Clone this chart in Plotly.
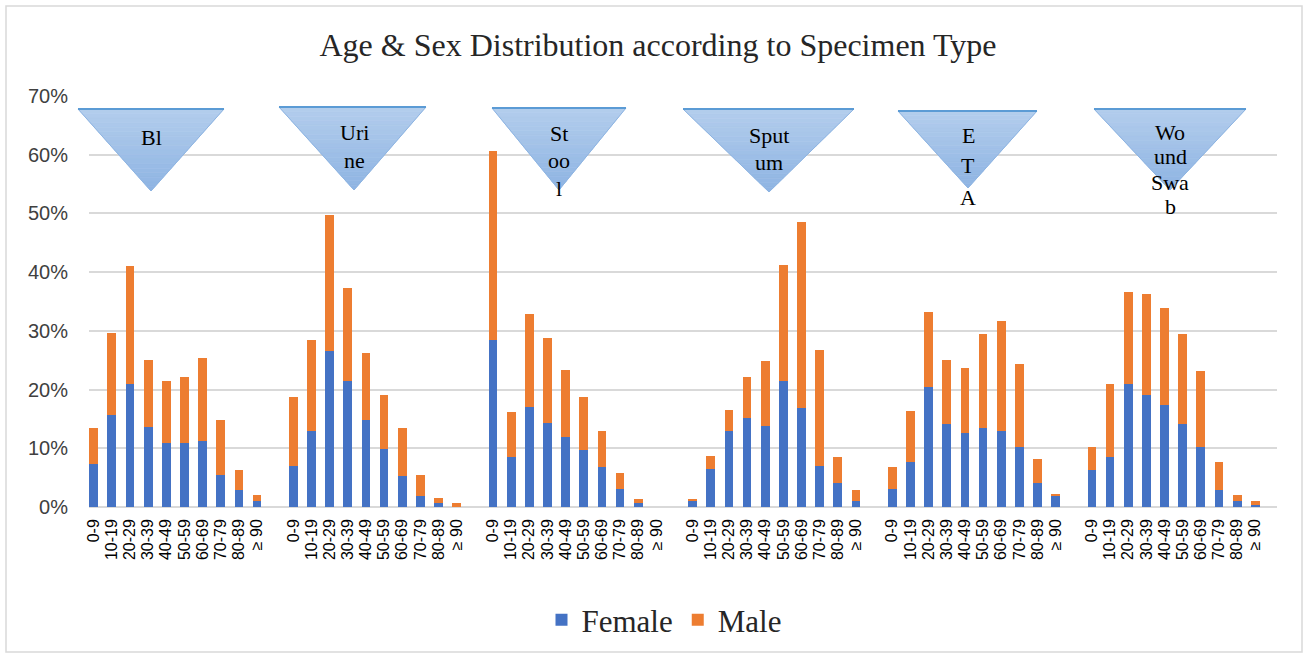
import plotly.graph_objects as go

# ---------------- data ----------------
specimens = ["Blood", "Urine", "Stool", "Sputum", "ETA", "Wound Swab"]
age_groups = ["0-9", "10-19", "20-29", "30-39", "40-49", "50-59", "60-69", "70-79", "80-89", "≥ 90"]

# percentages (female part and total bar height)
female_blood = [7.4, 15.7, 20.9, 13.7, 10.9, 10.9, 11.3, 5.4, 2.9, 1.1]
total_blood = [13.4, 29.7, 41.0, 25.0, 21.4, 22.2, 25.3, 14.9, 6.3, 2.0]
female_urine = [7.0, 13.0, 26.5, 21.4, 14.9, 9.9, 5.3, 1.8, 0.6, 0.0]
total_urine = [18.8, 28.4, 49.7, 37.3, 26.2, 19.1, 13.5, 5.4, 1.5, 0.6]
female_stool = [28.4, 8.5, 17.1, 14.3, 11.9, 9.7, 6.8, 3.0, 0.6, 0.0]
total_stool = [60.6, 16.1, 32.9, 28.7, 23.3, 18.8, 13.0, 5.8, 1.3, 0.0]
female_sputum = [1.1, 6.5, 13.0, 15.2, 13.8, 21.5, 16.9, 7.0, 4.1, 1.1]
total_sputum = [1.3, 8.7, 16.6, 22.1, 24.8, 41.3, 48.5, 26.7, 8.5, 2.9]
female_eta = [3.0, 7.7, 20.5, 14.2, 12.6, 13.5, 13.0, 10.2, 4.1, 1.8]
total_eta = [6.8, 16.4, 33.2, 25.0, 23.6, 29.4, 31.7, 24.3, 8.2, 2.3]
female_wound = [6.3, 8.5, 20.9, 19.1, 17.4, 14.2, 10.2, 2.9, 1.1, 0.3]
total_wound = [10.2, 20.9, 36.6, 36.3, 33.9, 29.4, 23.1, 7.7, 2.0, 1.1]

females = [female_blood, female_urine, female_stool, female_sputum, female_eta, female_wound]
totals = [total_blood, total_urine, total_stool, total_sputum, total_eta, total_wound]

# group labels as they appear (wrapped) inside the triangles
triangle_labels = [["Bl"], ["Uri", "ne"], ["St", "oo", "l"], ["Sput", "um"],
                   ["E", "T", "A"], ["Wo", "und", "Swa", "b"]]

# ---------------- build series ----------------
x_pos, f_vals, m_vals, tick_text = [], [], [], []
for g, (fs, ts) in enumerate(zip(females, totals)):
    for i, age in enumerate(age_groups):
        x_pos.append(g * (len(age_groups) + 1) + i)
        f_vals.append(fs[i] / 100)
        m_vals.append(round(ts[i] - fs[i], 2) / 100)
        tick_text.append(age)

W, H = 1308, 658
PL, PR, PT, PB = 89, 1277, 96, 507
SLOT = 18.15

fig = go.Figure()
fig.add_trace(go.Bar(x=x_pos, y=f_vals, name="Female", marker_color="#4472C4",
                     width=0.48, marker_line_width=0))
fig.add_trace(go.Bar(x=x_pos, y=m_vals, name="Male", marker_color="#ED7D31",
                     width=0.48, marker_line_width=0))


def px_x(x):
    return (x - PL) / (PR - PL)


def px_y(y):
    return (PB - y) / (PB - PT)


shapes = []
annotations = []

# outer chart border
shapes.append(dict(type="rect", xref="paper", yref="paper",
                   x0=px_x(6), x1=px_x(1302), y0=px_y(652), y1=px_y(6),
                   line=dict(color="#D9D9D9", width=1.5), fillcolor="rgba(0,0,0,0)", layer="below"))

# triangle geometry (pixels): left, right, top, apex_x, apex_y
tri_geo = [
    (78, 224, 109, 151, 191),
    (279, 426, 107, 354, 190),
    (492, 626, 108, 559, 190),
    (683, 854, 109, 769, 192),
    (898, 1037, 111, 968, 188),
    (1094, 1246, 109, 1170, 190),
]
label_pos = [
    [(151, 137)],
    [(354, 132), (354, 160)],
    [(559, 133), (559, 160), (559, 188)],
    [(769, 135), (769, 162)],
    [(968, 135), (968, 165), (968, 197)],
    [(1170, 132), (1170, 156), (1170, 182), (1170, 206)],
]

top_c = (180, 206, 237)
bot_c = (142, 180, 227)
N = 18
for (xl, xr, yt, xa, ya), lines, poss in zip(tri_geo, triangle_labels, label_pos):
    for k in range(N):
        t0, t1 = k / N, (k + 1) / N
        c = tuple(int(top_c[j] + (bot_c[j] - top_c[j]) * (t0 + t1) / 2) for j in range(3))
        col = "rgb(%d,%d,%d)" % c
        pts = [
            (xl + (xa - xl) * t0, yt + (ya - yt) * t0),
            (xr + (xa - xr) * t0, yt + (ya - yt) * t0),
            (xr + (xa - xr) * t1, yt + (ya - yt) * t1),
            (xl + (xa - xl) * t1, yt + (ya - yt) * t1),
        ]
        path = "M " + " L ".join("%f,%f" % (px_x(px), px_y(py)) for px, py in pts) + " Z"
        shapes.append(dict(type="path", xref="paper", yref="paper", path=path,
                           fillcolor=col, line=dict(color=col, width=0.6), layer="above"))
    outline = "M %f,%f L %f,%f L %f,%f Z" % (px_x(xl), px_y(yt), px_x(xr), px_y(yt), px_x(xa), px_y(ya))
    shapes.append(dict(type="path", xref="paper", yref="paper", path=outline,
                       fillcolor="rgba(0,0,0,0)", line=dict(color="#8DB4E2", width=1), layer="above"))
    shapes.append(dict(type="line", xref="paper", yref="paper",
                       x0=px_x(xl), x1=px_x(xr), y0=px_y(yt), y1=px_y(yt),
                       line=dict(color="#5B9BD5", width=2), layer="above"))
    for txt, (cx, cy) in zip(lines, poss):
        annotations.append(dict(text=txt, xref="paper", yref="paper", x=px_x(cx), y=px_y(cy),
                                xanchor="center", yanchor="middle", showarrow=False,
                                font=dict(family="Liberation Serif", size=22, color="#000000")))

fig.update_layout(
    width=W, height=H,
    barmode="stack",
    paper_bgcolor="white", plot_bgcolor="white",
    margin=dict(l=PL, r=W - PR, t=PT, b=H - PB, autoexpand=False),
    title=dict(text="Age & Sex Distribution according to Specimen Type",
               x=658 / W, xref="container", xanchor="center",
               y=1 - 45 / H, yref="container", yanchor="middle",
               font=dict(family="Liberation Serif", size=32, color="#262626")),
    xaxis=dict(range=[-(93.7 - PL) / SLOT, -(93.7 - PL) / SLOT + (PR - PL) / SLOT],
               tickmode="array", tickvals=x_pos, ticktext=tick_text, tickangle=-90,
               showgrid=False, zeroline=False, showline=False, ticks="",
               ticklabelstandoff=8,
               tickfont=dict(family="Liberation Sans", size=16, color="#000000")),
    yaxis=dict(range=[0, 0.7], dtick=0.1, tickformat=".0%",
               showgrid=True, gridcolor="#D9D9D9", gridwidth=1.5,
               zeroline=True, zerolinecolor="#D9D9D9", zerolinewidth=1.5,
               showline=False, ticks="", ticklabelstandoff=20,
               tickfont=dict(family="Liberation Sans", size=20, color="#404040")),
    legend=dict(orientation="h", x=px_x(664), xanchor="center", y=px_y(620), yanchor="middle",
                font=dict(family="Liberation Serif", size=31, color="#262626"),
                itemsizing="constant", traceorder="normal", itemwidth=30),
    shapes=shapes,
    annotations=annotations,
    bargap=0,
)

fig.write_html("out.html", config={"displayModeBar": False},
               post_script="document.body.style.margin='0';")
